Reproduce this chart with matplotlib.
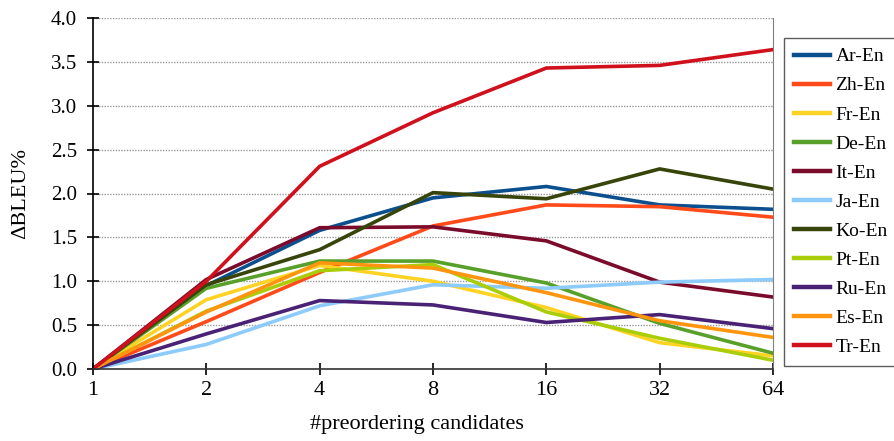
import matplotlib.pyplot as plt

plt.rcParams['font.family'] = ['Liberation Serif', 'DejaVu Serif']

candidates = ["1", "2", "4", "8", "16", "32", "64"]

pairs = ["Ar-En", "Zh-En", "Fr-En", "De-En", "It-En", "Ja-En",
         "Ko-En", "Pt-En", "Ru-En", "Es-En", "Tr-En"]

ar_en = [0, 0.95, 1.58, 1.95, 2.08, 1.87, 1.82]
zh_en = [0, 0.54, 1.10, 1.63, 1.87, 1.85, 1.73]
fr_en = [0, 0.79, 1.18, 1.00, 0.70, 0.30, 0.15]
de_en = [0, 0.92, 1.23, 1.23, 0.98, 0.52, 0.18]
it_en = [0, 1.02, 1.61, 1.62, 1.46, 0.99, 0.82]
ja_en = [0, 0.28, 0.72, 0.96, 0.92, 0.99, 1.02]
ko_en = [0, 0.96, 1.36, 2.01, 1.94, 2.28, 2.05]
pt_en = [0, 0.66, 1.12, 1.19, 0.65, 0.35, 0.10]
ru_en = [0, 0.40, 0.78, 0.73, 0.53, 0.62, 0.46]
es_en = [0, 0.65, 1.21, 1.15, 0.87, 0.55, 0.36]
tr_en = [0, 1.00, 2.31, 2.92, 3.43, 3.46, 3.64]

series = [ar_en, zh_en, fr_en, de_en, it_en, ja_en,
          ko_en, pt_en, ru_en, es_en, tr_en]
colors = ["#0B4F8E", "#FF4A1A", "#FFD324", "#58A02A", "#7A0B2B", "#8DCBFB",
          "#38450A", "#AACD0A", "#4A2275", "#FF950E", "#D0101C"]

fig = plt.figure(figsize=(8.94, 4.41), dpi=100)
ax = fig.add_axes([93 / 894, 1 - 369 / 441, 680 / 894, 351 / 441])

x = range(len(candidates))
for name, vals, c in zip(pairs, series, colors):
    ax.plot(x, vals, color=c, lw=2.6, label=name, solid_joinstyle="miter")

ax.set_xlim(0, len(candidates) - 1)
ax.set_ylim(0, 4.0)
ax.set_xticks(list(x))
ax.set_xticklabels(candidates)
ax.set_yticks([i * 0.5 for i in range(9)])
ax.set_yticklabels([f"{i * 0.5:.1f}" for i in range(9)])
ax.tick_params(axis="both", direction="inout", length=9, width=1.2)
ax.tick_params(axis="y", labelsize=15, pad=7)
ax.tick_params(axis="x", labelsize=16, pad=4)

ax.yaxis.grid(True, color="#999999", linestyle=(0, (1, 1)), linewidth=1)
ax.set_axisbelow(True)
ax.spines["top"].set_visible(False)
ax.spines["right"].set_color("#808080")
ax.spines["left"].set_linewidth(1.2)
ax.spines["bottom"].set_linewidth(1.2)
ax.spines["bottom"].set_color("#333333")

ax.set_xlabel("#preordering candidates", fontsize=16)
ax.xaxis.label.set_verticalalignment("center")
ax.xaxis.set_label_coords((417 - 93) / 680, -(425 - 369) / 351)
ax.set_ylabel("ΔBLEU%", fontsize=16)
ax.yaxis.set_label_coords(-(93 - 21) / 680, 0.5)
ax.yaxis.label.set_verticalalignment("center")

leg = ax.legend(loc="upper left", bbox_to_anchor=(784 / 894, 1 - 38 / 441),
                bbox_transform=fig.transFigure, fontsize=14, frameon=True,
                fancybox=False, edgecolor="#333333", handlelength=1.85,
                labelspacing=0.59, borderpad=0.5, handletextpad=0.3,
                borderaxespad=0)
leg.get_frame().set_linewidth(1.0)
for line in leg.get_lines():
    line.set_linewidth(3.2)

fig.savefig("out.png", dpi=100)
